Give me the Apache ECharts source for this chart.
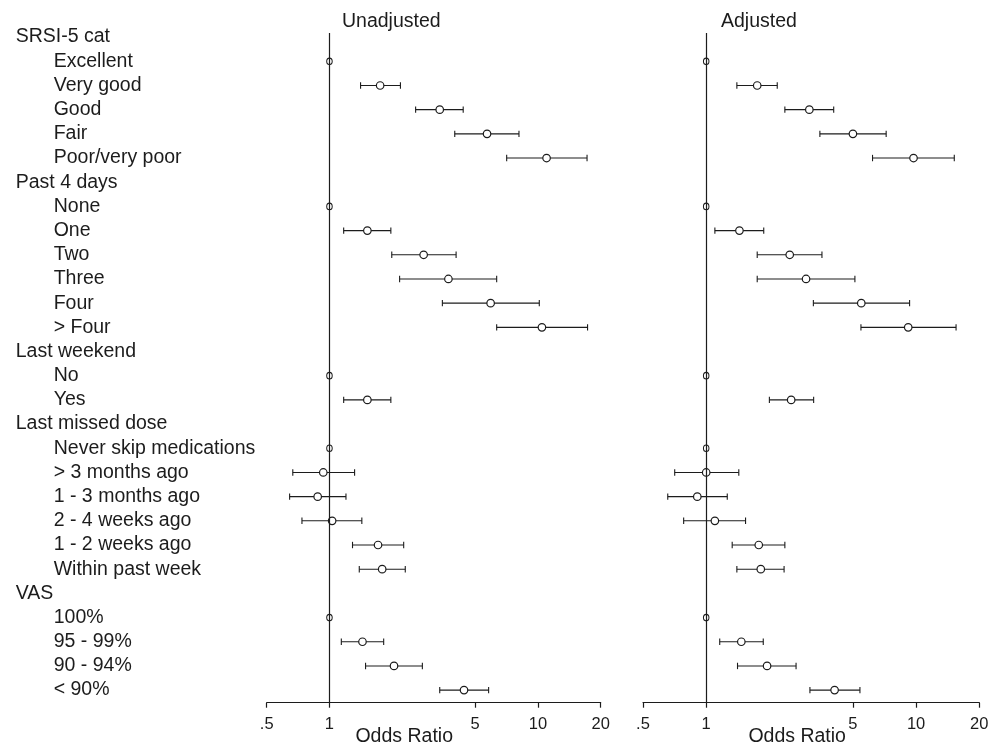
<!DOCTYPE html>
<html>
<head>
<meta charset="utf-8">
<title>Odds ratio forest plot</title>
<script src="https://cdn.jsdelivr.net/npm/echarts@6/dist/echarts.min.js"></script>
<style>
  html, body { margin: 0; padding: 0; background: #fff; }
  #chart { width: 1003px; height: 745px; }
</style>
</head>
<body>
<div id="chart"></div>
<script>
// row labels, level 0 = group header, 1 = category
const rowLabels = ['SRSI-5 cat', 'Excellent', 'Very good', 'Good', 'Fair', 'Poor/very poor',
  'Past 4 days', 'None', 'One', 'Two', 'Three', 'Four', '> Four',
  'Last weekend', 'No', 'Yes',
  'Last missed dose', 'Never skip medications', '> 3 months ago', '1 - 3 months ago',
  '2 - 4 weeks ago', '1 - 2 weeks ago', 'Within past week',
  'VAS', '100%', '95 - 99%', '90 - 94%', '< 90%']
const rowLevel = [0, 1, 1, 1, 1, 1, 0, 1, 1, 1, 1, 1, 1, 0, 1, 1, 0, 1, 1, 1, 1, 1, 1, 0, 1, 1, 1, 1]
// reference categories (odds ratio fixed at 1)
const refRows = [1, 7, 14, 17, 24]

// unadjusted odds ratios and 95% CI (null = no estimate on that row)
const unadjOR = [null, null, 1.75, 3.38, 5.70, 11.0, null, null, 1.52, 2.83, 3.72, 5.93, 10.45,
  null, null, 1.52, null, null, 0.934, 0.878, 1.03, 1.71, 1.79, null, null, 1.44, 2.04, 4.42]
const unadjLo = [null, null, 1.41, 2.59, 3.99, 7.08, null, null, 1.17, 1.99, 2.17, 3.48, 6.34,
  null, null, 1.17, null, null, 0.667, 0.644, 0.738, 1.29, 1.39, null, null, 1.14, 1.49, 3.38]
const unadjHi = [null, null, 2.19, 4.38, 8.11, 17.2, null, null, 1.97, 4.05, 6.34, 10.15, 17.3,
  null, null, 1.97, null, null, 1.32, 1.20, 1.43, 2.27, 2.31, null, null, 1.82, 2.79, 5.80]

// adjusted odds ratios and 95% CI
const adjOR = [null, null, 1.75, 3.10, 5.00, 9.72, null, null, 1.44, 2.50, 2.99, 5.48, 9.17,
  null, null, 2.54, null, null, 1.00, 0.907, 1.10, 1.78, 1.82, null, null, 1.47, 1.95, 4.09]
const adjLo = [null, null, 1.40, 2.37, 3.48, 6.20, null, null, 1.10, 1.75, 1.75, 3.24, 5.46,
  null, null, 2.00, null, null, 0.708, 0.656, 0.781, 1.33, 1.40, null, null, 1.16, 1.41, 3.12]
const adjHi = [null, null, 2.18, 4.05, 7.20, 15.2, null, null, 1.88, 3.56, 5.11, 9.31, 15.5,
  null, null, 3.25, null, null, 1.43, 1.26, 1.54, 2.37, 2.35, null, null, 1.87, 2.68, 5.40]

const xTicks = [0.5, 1, 5, 10, 20]
const panelTitles = ['Unadjusted', 'Adjusted']

const FONT = "'Liberation Sans', Arial, Helvetica, sans-serif"
const INK = '#1c1c1c'

const chartInstance = echarts.init(document.getElementById('chart'), null, { renderer: 'canvas' })

// build the series of one panel
function panelSeries (idx, orArr, loArr, hiArr) {
  const ciData = []
  const ptData = []
  orArr.forEach((v, i) => {
    if (v === null) return
    ciData.push([i, loArr[i], hiArr[i]])
    ptData.push([v, i])
  })
  return [
    {
      type: 'custom',
      xAxisIndex: idx,
      yAxisIndex: idx,
      silent: true,
      encode: { x: [1, 2], y: 0 },
      data: ciData,
      renderItem (params, api) {
        const row = api.value(0)
        const p1 = api.coord([api.value(1), row])
        const p2 = api.coord([api.value(2), row])
        const cap = 3.2
        const style = { stroke: INK, lineWidth: 1.1 }
        return {
          type: 'group',
          children: [
            { type: 'line', shape: { x1: p1[0], y1: p1[1], x2: p2[0], y2: p2[1] }, style },
            { type: 'line', shape: { x1: p1[0], y1: p1[1] - cap, x2: p1[0], y2: p1[1] + cap }, style },
            { type: 'line', shape: { x1: p2[0], y1: p2[1] - cap, x2: p2[0], y2: p2[1] + cap }, style }
          ]
        }
      },
      z: 2
    },
    {
      type: 'scatter',
      xAxisIndex: idx,
      yAxisIndex: idx,
      silent: true,
      symbol: 'circle',
      symbolSize: 7.5,
      itemStyle: { color: '#fff', borderColor: INK, borderWidth: 1.2, opacity: 1 },
      data: ptData,
      z: 4
    },
    {
      type: 'scatter',
      xAxisIndex: idx,
      yAxisIndex: idx,
      silent: true,
      symbol: 'circle',
      symbolSize: [5.5, 6.5],
      itemStyle: { color: 'rgba(255,255,255,0)', borderColor: INK, borderWidth: 1.1, opacity: 1 },
      data: refRows.map((r) => [1, r]),
      markLine: {
        silent: true,
        symbol: ['none', 'none'],
        label: { show: false },
        lineStyle: { color: INK, type: 'solid', width: 1.2 },
        data: [{ xAxis: 1 }]
      },
      z: 3
    }
  ]
}

function xAxisOf (idx, namePad) {
  return {
    type: 'log',
    logBase: 10,
    gridIndex: idx,
    position: 'bottom',
    min: 0.5,
    max: 20,
    name: 'Odds Ratio',
    nameLocation: 'middle',
    nameGap: 23.5,
    nameMoveOverlap: false,
    nameTextStyle: { fontFamily: FONT, fontSize: 19.5, color: INK, padding: [0, namePad, 0, 0] },
    axisLine: { show: true, onZero: false, lineStyle: { color: INK, width: 1.2 } },
    axisTick: { show: true, customValues: xTicks, length: 5, lineStyle: { color: INK, width: 1.2 } },
    axisLabel: {
      customValues: xTicks,
      margin: 13,
      fontFamily: FONT,
      fontSize: 16.5,
      color: INK,
      formatter: (v) => (Math.abs(v - 0.5) < 1e-6 ? '.5' : String(Math.round(v)))
    },
    splitLine: { show: false },
    minorTick: { show: false }
  }
}

function yAxisOf (idx, showLabels) {
  return {
    type: 'value',
    gridIndex: idx,
    inverse: true,
    min: -0.17,
    max: 27.52,
    axisLine: { show: false, onZero: false },
    axisTick: { show: false },
    splitLine: { show: false },
    axisLabel: showLabels
      ? {
          customValues: rowLabels.map((l, i) => i),
          align: 'left',
          margin: 251,
          fontFamily: FONT,
          fontSize: 19.5,
          color: INK,
          formatter: (v) => {
            const i = Math.round(v)
            return rowLevel[i] === 0 ? '{h|' + rowLabels[i] + '}' : '{i|' + rowLabels[i] + '}'
          },
          rich: {
            h: { fontFamily: FONT, fontSize: 19.5, color: INK },
            i: { fontFamily: FONT, fontSize: 19.5, color: INK, padding: [0, 0, 0, 38] }
          }
        }
      : { show: false }
  }
}

const option = {
  backgroundColor: '#fff',
  animation: false,
  title: [
    { text: panelTitles[0], left: 342, top: 11.5, padding: 0, textStyle: { fontFamily: FONT, fontSize: 19.5, fontWeight: 'normal', color: INK } },
    { text: panelTitles[1], left: 721, top: 11.5, padding: 0, textStyle: { fontFamily: FONT, fontSize: 19.5, fontWeight: 'normal', color: INK } }
  ],
  grid: [
    { left: 266.7, right: 402.3, top: 33, bottom: 42.3, containLabel: false, outerBoundsMode: 'none' },
    { left: 643, right: 23.7, top: 33, bottom: 42.3, containLabel: false, outerBoundsMode: 'none' }
  ],
  xAxis: [xAxisOf(0, 59), xAxisOf(1, 28)],
  yAxis: [yAxisOf(0, true), yAxisOf(1, false)],
  series: [
    ...panelSeries(0, unadjOR, unadjLo, unadjHi),
    ...panelSeries(1, adjOR, adjLo, adjHi)
  ]
}

chartInstance.setOption(option)
</script>
</body>
</html>
